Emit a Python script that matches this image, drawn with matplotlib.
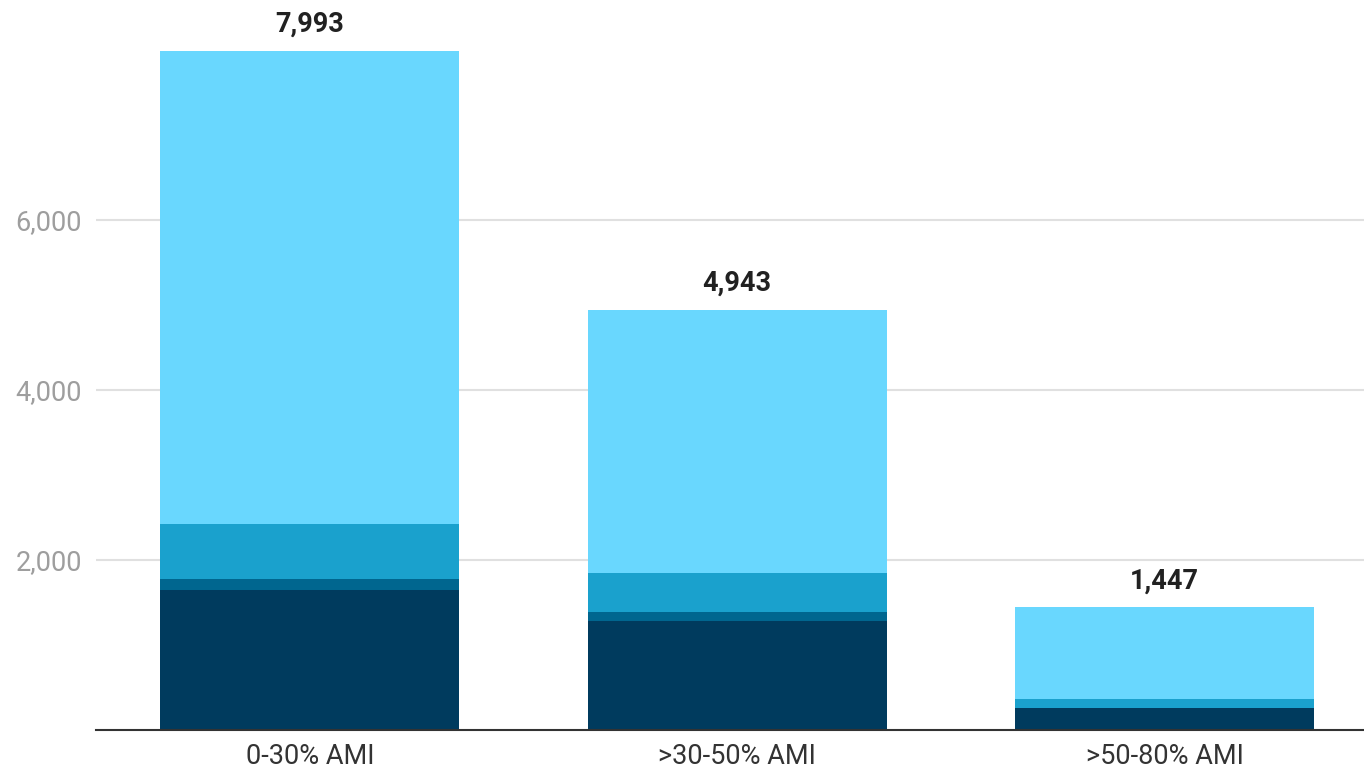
import matplotlib
matplotlib.use("Agg")
import matplotlib.pyplot as plt
import numpy as np

plt.rcParams['font.family'] = ['Roboto', 'DejaVu Sans']

categories = ["0-30% AMI", ">30-50% AMI", ">50-80% AMI"]
series_1 = [1647, 1282, 255]
series_2 = [126, 106, 0]
series_3 = [647, 455, 114]
series_4 = [5573, 3100, 1078]
totals = [7993, 4943, 1447]
colors = ["#003b5e", "#00668f", "#1aa1cd", "#69d7fe"]
yticks = [2000, 4000, 6000]

W, H = 1364, 773
fig = plt.figure(figsize=(W / 100, H / 100), dpi=100)
ax = fig.add_axes([96 / W, 1 - 730 / H, (W - 96) / W, 730 / H])

x = np.arange(len(categories))
bottom = np.zeros(len(categories))
for vals, c in zip([series_1, series_2, series_3, series_4], colors):
    ax.bar(x, vals, width=0.7, bottom=bottom, color=c, zorder=3)
    bottom += np.array(vals)

for xi, t in zip(x, totals):
    ax.annotate(f"{t:,}", (xi, t), xytext=(0, 13.5), textcoords="offset points",
                ha="center", va="baseline", fontsize=19.5, fontweight="bold",
                color="#212121")

ax.set_xlim(-0.5, -0.5 + (W - 96) / 427.5)
ax.set_ylim(0, 730 / 0.085)
ax.set_yticks(yticks)
ax.set_yticklabels([f"{v:,}" for v in yticks])
ax.set_xticks(x)
ax.set_xticklabels(categories)
ax.tick_params(axis="y", length=0, pad=10, labelsize=19.5, labelcolor="#9e9e9e")
ax.tick_params(axis="x", length=0, pad=9, labelsize=19.5, labelcolor="#333333")
ax.grid(axis="y", color="#e0e0e0", linewidth=1.5, zorder=0)
for s in ["top", "right", "left"]:
    ax.spines[s].set_visible(False)
ax.spines["bottom"].set_color("#333333")
ax.spines["bottom"].set_linewidth(1.5)
ax.spines["bottom"].set_zorder(4)

fig.savefig("out.png", dpi=100)
